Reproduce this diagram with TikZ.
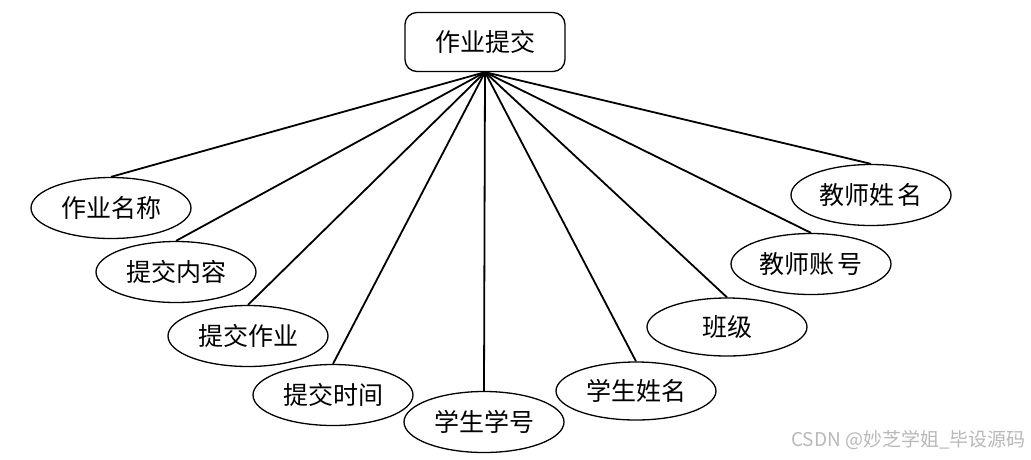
\documentclass[tikz,border=0pt]{standalone}
\usepackage{fontspec}
\newfontfamily\cjk{Noto Sans CJK SC}
\usetikzlibrary{shapes.geometric}
\begin{document}
\begin{tikzpicture}[x=1pt,y=-1pt,
  attr/.style={ellipse,draw,line width=1.3pt,minimum width=160pt,minimum height=61pt,inner sep=0pt,font=\cjk\fontsize{25}{30}\selectfont},
  entity/.style={rectangle,rounded corners=12pt,draw,line width=1.3pt,minimum width=160pt,minimum height=59pt,inner sep=0pt,font=\cjk\fontsize{25}{30}\selectfont},
  link/.style={line width=1.8pt}]
\useasboundingbox (0,0) rectangle (1031,459);
\node[entity] (top) at (485,42) {作业提交};
\node[attr] (a1) at (111,208) {作业名称};
\node[attr] (a2) at (176,272) {提交内容};
\node[attr] (a3) at (248,336) {提交作业};
\node[attr] (a4) at (333,395) {提交时间};
\node[attr] (a5) at (484,422) {学生学号};
\node[attr,minimum height=58pt] (a6) at (636,391) {学生姓名};
\node[attr,minimum height=58pt] (a7) at (727,327) {班级};
\node[attr] (a8) at (811,264) {教师账\hspace{0.15em}号};
\node[attr] (a9) at (871,195) {教师姓\hspace{0.15em}名};
\foreach \n in {a1,a2,a3,a4,a5,a6,a7,a8,a9}
  \draw[link] (top.south) -- (\n.north);
\node[font=\cjk\fontsize{19}{22}\selectfont,text=black!28,anchor=east,inner sep=0pt] (wm) at (1026,440) {CSDN @妙芝学姐\_毕设源码};
\end{tikzpicture}
\end{document}
